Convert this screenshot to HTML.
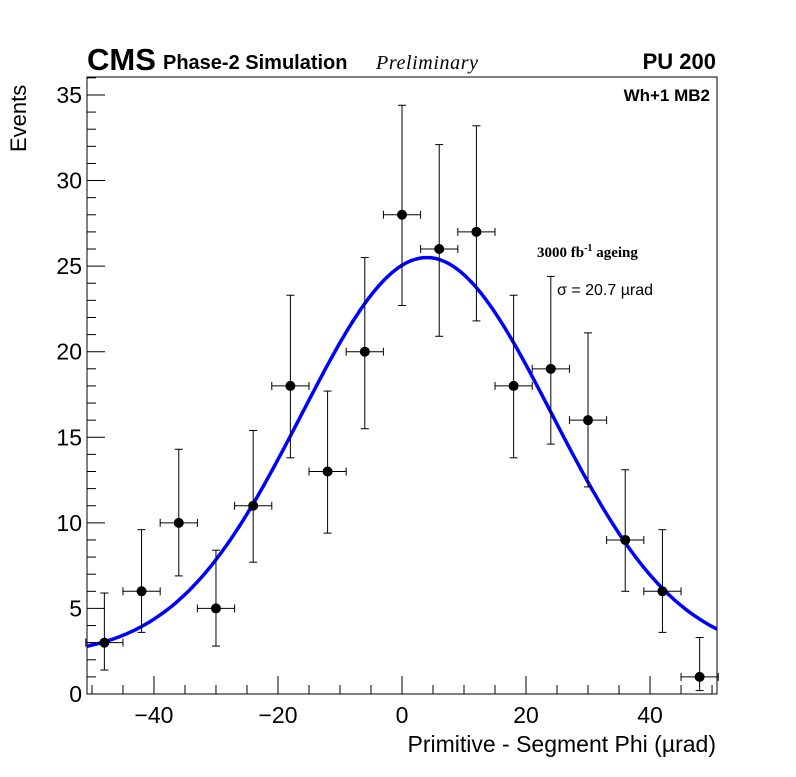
<!DOCTYPE html>
<html><head><meta charset="utf-8"><style>
body{margin:0;background:#fff;}
svg text{font-family:"Liberation Sans",sans-serif;}
</style></head><body>
<svg id="c" width="796" height="772" xmlns="http://www.w3.org/2000/svg">
<rect width="796" height="772" fill="#fff"/>
<g id="g"></g>
<text x="87" y="70" font-size="31" font-weight="bold">CMS</text>
<text x="163" y="69" font-size="20" font-weight="bold">Phase-2 Simulation</text>
<text x="376" y="69" font-size="20" font-style="italic" textLength="102" style="font-family:'Liberation Serif',serif">Preliminary</text>
<text x="716" y="69" font-size="22" font-weight="bold" text-anchor="end">PU 200</text>
<text x="710" y="101" font-size="17" font-weight="bold" text-anchor="end">Wh+1 MB2</text>
<text x="537" y="257" font-size="15" font-weight="bold" style="font-family:'Liberation Serif',serif">3000 fb<tspan font-size="10" dy="-6">-1</tspan><tspan dy="6"> ageing</tspan></text>
<text x="557" y="295" font-size="16">σ = 20.7 µrad</text>
<text x="716" y="752" font-size="23" text-anchor="end">Primitive - Segment Phi (µrad)</text>
<text transform="translate(26,152) rotate(-90)" font-size="22">Events</text>
</svg>
<script>
const xCenters=[-48,-42,-36,-30,-24,-18,-12,-6,0,6,12,18,24,30,36,42,48];
const counts=[3,6,10,5,11,18,13,20,28,26,27,18,19,16,9,6,1];
const errLow=[1.6,2.4,3.1,2.2,3.3,4.2,3.6,4.5,5.3,5.1,5.2,4.2,4.4,3.9,3.0,2.4,0.8];
const errHigh=[2.9,3.6,4.3,3.4,4.4,5.3,4.7,5.5,6.4,6.1,6.2,5.3,5.4,5.1,4.1,3.6,2.3];
const binHalf=3;
const fitConst=[2.2], fitAmp=[23.3], fitMean=[4.0], fitSigma=[20.2];
const xTicks=[-40,-20,0,20,40];
const yTicks=[0,5,10,15,20,25,30,35];
const NS="http://www.w3.org/2000/svg";
const L=87,R=717,T=77,B=694,xmin=-50.8,xmax=50.8,ymin=0,ymax=36.05;
const X=v=>L+(v-xmin)/(xmax-xmin)*(R-L);
const Y=v=>B-(v-ymin)/(ymax-ymin)*(B-T);
const g=document.getElementById('g');
function mk(t,a){const e=document.createElementNS(NS,t);for(const k in a)e.setAttribute(k,a[k]);g.appendChild(e);return e;}
let e=mk('rect',{x:L,y:T,width:R-L,height:B-T,fill:'none',stroke:'#000','stroke-width':1});


for(let v=-50;v<=50;v+=5){const maj=v%20===0;e=mk('line',{x1:X(v),x2:X(v),y1:B,y2:B-(maj?18:9),stroke:'#000'});

}
for(let v=0;v<=36;v++){const maj=v%5===0;e=mk('line',{x1:L,x2:L+(maj?18:9),y1:Y(v),y2:Y(v),stroke:'#000'});

}
xTicks.forEach(v=>{e=mk('text',{x:X(v),y:B+29,'font-size':23,'text-anchor':'middle'});e.textContent=(v<0?'\u2212'+(-v):v);

});
yTicks.forEach(v=>{e=mk('text',{x:L-5,y:Y(v)+8,'font-size':23,'text-anchor':'end'});e.textContent=v;

});
let d='';for(let i=0;i<=300;i++){const x=xmin+(xmax-xmin)*i/300;const y=fitConst[0]+fitAmp[0]*Math.exp(-Math.pow(x-fitMean[0],2)/(2*fitSigma[0]*fitSigma[0]));d+=(i?'L':'M')+X(x).toFixed(1)+' '+Y(y).toFixed(1);}
e=mk('path',{d:d,fill:'none',stroke:'#0000ff','stroke-width':3.5});


xCenters.forEach((c,i)=>{const n=counts[i];
e=mk('line',{x1:X(c-binHalf),x2:X(c+binHalf),y1:Y(n),y2:Y(n),stroke:'#000'});


e=mk('line',{x1:X(c),x2:X(c),y1:Y(n-errLow[i]),y2:Y(n+errHigh[i]),stroke:'#000'});


[X(c-binHalf),X(c+binHalf)].forEach(x=>{mk('line',{x1:x,x2:x,y1:Y(n)-4,y2:Y(n)+4,stroke:'#000'});});
[Y(n-errLow[i]),Y(n+errHigh[i])].forEach(y=>{mk('line',{x1:X(c)-4,x2:X(c)+4,y1:y,y2:y,stroke:'#000'});});
e=mk('circle',{cx:X(c),cy:Y(n),r:5,fill:'#000'});

});
</script>
</body></html>
